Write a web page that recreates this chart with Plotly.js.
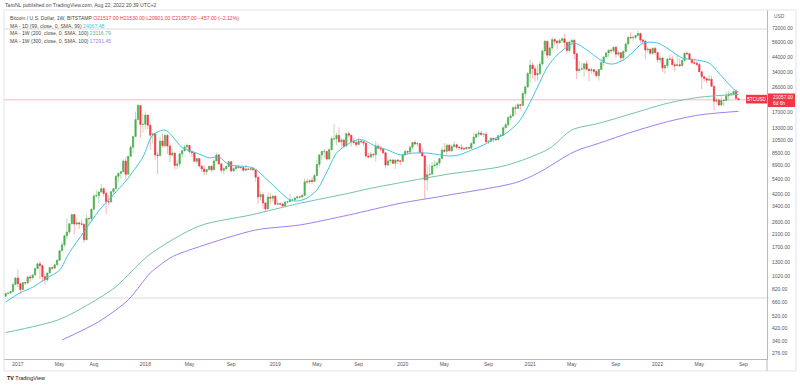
<!DOCTYPE html>
<html><head><meta charset="utf-8">
<script src="https://cdn.plot.ly/plotly-3.0.1.min.js"></script>
<style>html,body{margin:0;padding:0;background:#fff}#chart{width:800px;height:386px}</style>
</head><body><div id="chart"></div>
<script>
// ---- DATA: weekly BTC/USD (Bitstamp), first week starting 2016-11-28 ----
const startWeek = '2016-11-28';
const opens = [
730,765,770,790,890,
998,905,818,920,915,1015,998,1048,1170,1270,1230,1020,965,1085,1190,1180,1250,1350,1590,1760,2050,2190,2520,2950,2510,2560,2520,2500,1920,2760,2750,3230,4060,4080,4340,4600,4240,3690,3660,4370,4600,5680,5980,6150,7380,5880,8000,9350,11250,15000,19100,13800,
13850,16200,13600,11500,11750,8200,8100,10400,9600,11450,9550,8200,8450,6850,7030,8350,8800,9400,9650,8700,8500,7350,7700,6780,6450,6150,6370,6750,6350,7400,8200,7030,6300,6480,6720,7300,6230,6500,6700,6620,6600,6300,6450,6400,6480,6350,5600,4000,4150,3600,3250,3980,3900,
4050,3520,3550,3540,3420,3660,3680,3800,3800,3920,4000,3990,4100,5180,5160,5300,5200,5760,6950,8200,8700,8700,7650,8970,10800,10800,11450,10250,10600,9550,11800,11500,10300,10150,9780,10400,10300,10050,8050,7900,8300,8230,9550,9200,9050,8500,6900,7400,7500,7100,7500,7400,
7350,8180,8700,8600,9350,10150,9900,9950,8550,8050,5350,5850,5900,6780,6900,7130,7700,8900,8730,9670,8790,9450,9750,9350,9300,9120,9070,9300,9200,9950,11100,11700,11900,11650,11700,10250,10330,10900,10750,10650,11400,11500,13050,13750,15480,15950,18400,18180,19350,19150,23450,26250,
33000,38150,35800,32250,33100,38850,48600,57450,45200,51200,59000,57400,55800,58200,59800,56200,49000,56600,58300,46400,34700,35600,35800,39000,35500,34700,35300,34250,31800,35400,39850,43800,47000,49300,48800,51750,46000,47200,43200,48200,54700,61500,60900,61300,63300,65500,58700,57300,49400,50100,46700,50800,
47300,41850,43100,36300,37900,42400,42200,38400,37700,38400,37800,41300,46850,46400,42200,39700,39450,38500,34050,31300,30300,29450,29900,26600,20550,21030,19300,20850,20800,22600,23300,23200,24300,21517];
const highs = [
775,775,792,925,1000,
1150,910,925,930,1030,1060,1060,1190,1290,1330,1255,1070,1090,1200,1215,1280,1370,1600,1850,2100,2760,2550,2970,2990,2770,2620,2720,2530,2950,2800,3280,4200,4480,4400,4980,4700,4380,4120,4380,4620,5850,6000,6200,7600,7880,8050,9700,11400,17200,19666,19200,16500,
17250,16300,14000,12000,11900,8600,11200,11800,11700,11700,9950,9100,8500,7500,8400,9000,9750,9990,9680,8850,8550,7750,7780,6850,6850,6450,6780,6800,7600,8500,8270,7150,6620,6850,7320,7400,6600,6800,6800,6670,6700,6950,6520,6500,6600,6400,5620,4400,4300,3600,4300,4250,4100,
4100,3800,3630,3560,3690,3700,4200,3900,3950,4050,4070,4200,5500,5470,5380,5630,5900,7500,8300,8800,9100,8800,9300,11250,13880,12000,13150,11000,10650,11950,12300,11500,10950,10600,10900,10500,10350,10100,8500,8650,8450,10350,9950,9550,9100,8500,7850,7650,7650,7520,7700,7500,
8450,9000,8800,9600,10180,10500,10250,9980,9200,8200,6950,7000,7250,7480,7300,7780,9500,10050,9950,9900,9750,10400,9950,9550,9800,9350,9450,9350,10150,12000,11900,12450,12450,11830,12100,10600,11100,10950,10950,11450,11700,13350,14100,15950,16500,18900,19450,19900,19400,24300,26800,34000,
41950,40100,37800,38500,41000,49700,58300,57500,52600,61700,60600,58400,60200,61300,64900,57100,58000,59500,59600,46800,40900,39500,39400,41300,36000,36600,35950,34700,35500,42600,44700,48100,49350,50500,51900,52900,48800,47300,49000,56500,62000,67000,63700,63400,69000,66300,59500,59200,51900,50300,51800,52100,
47500,44500,43500,38900,42600,45800,44800,40300,45400,42600,42400,46900,48200,47200,42400,42900,40800,40000,34200,31400,30700,32300,31700,26800,21900,21500,22400,21200,24300,24600,23500,25000,25200,21530];
const lows = [
725,752,765,790,885,
850,750,815,885,910,930,990,1045,1165,980,940,890,940,1080,1150,1175,1240,1345,1590,1690,1950,2100,2500,2100,2450,2300,2470,1830,1900,2450,2620,3200,3960,3600,4300,4000,2980,3500,3650,4200,4560,5100,5450,6050,5500,5850,7980,8500,11100,14900,11000,12000,
12750,12800,9000,9960,7500,5900,8000,9300,9300,8300,7250,8000,6450,6450,6600,7850,8700,8950,8350,7900,7250,7050,6600,6120,5770,5800,6330,6100,6330,7350,6900,6050,5880,6260,6650,6150,6100,6200,6450,6470,6150,6300,6370,6250,6300,5200,3550,3750,3250,3122,3230,3550,3650,
3500,3500,3450,3350,3370,3560,3650,3700,3670,3830,3920,3900,4080,4950,5000,4950,5150,5700,6600,7500,7800,7450,7550,8950,10400,9700,10100,9100,9200,9400,11000,9500,9800,9330,9750,9900,9600,7750,7800,7800,7850,7300,9050,8700,8350,6500,6800,7150,7000,6450,7050,6850,
7300,8050,8250,8550,9100,9700,9400,8500,8000,3850,4450,5700,5850,6770,6500,6800,7650,8550,8200,8750,8650,9300,9050,8900,8850,8950,9050,9050,9130,9900,10950,11150,11350,11100,9900,9850,10250,10150,10400,10550,11200,11400,12950,13250,14800,15800,16200,18100,17600,19000,21800,26100,
28150,30300,28800,29200,32300,38000,45700,43000,45000,49300,53300,50400,55000,55500,51500,47000,47000,52900,42200,30000,33400,34800,31000,34900,28800,32700,32100,31000,29300,35200,37500,43700,43900,46400,46900,43000,44700,39800,40800,46900,54300,59600,57900,59500,62300,55600,53500,42000,47300,45600,45600,45700,
39700,39600,34000,32900,36300,41700,38000,34300,37500,37200,37600,40500,45200,41900,39200,38600,37600,33700,25400,28700,28000,29300,26500,17600,19800,18800,19000,18900,20700,20700,22400,22700,20800,20901];
const closes = [
765,770,790,890,998,
905,818,920,915,1015,998,1048,1170,1270,1230,1020,965,1085,1190,1180,1250,1350,1590,1760,2050,2190,2520,2950,2510,2560,2520,2500,1920,2760,2750,3230,4060,4080,4340,4600,4240,3690,3660,4370,4600,5680,5980,6150,7380,5880,8000,9350,11250,15000,19100,13800,13850,
16200,13600,11500,11750,8200,8100,10400,9600,11450,9550,8200,8450,6850,7030,8350,8800,9400,9650,8700,8500,7350,7700,6780,6450,6150,6370,6750,6350,7400,8200,7030,6300,6480,6720,7300,6230,6500,6700,6620,6600,6300,6450,6400,6480,6350,5600,4000,4150,3600,3250,3980,3900,4050,
3520,3550,3540,3420,3660,3680,3800,3800,3920,4000,3990,4100,5180,5160,5300,5200,5760,6950,8200,8700,8700,7650,8970,10800,10800,11450,10250,10600,9550,11800,11500,10300,10150,9780,10400,10300,10050,8050,7900,8300,8230,9550,9200,9050,8500,6900,7400,7500,7100,7500,7400,7350,
8180,8700,8600,9350,10150,9900,9950,8550,8050,5350,5850,5900,6780,6900,7130,7700,8900,8730,9670,8790,9450,9750,9350,9300,9120,9070,9300,9200,9950,11100,11700,11900,11650,11700,10250,10330,10900,10750,10650,11400,11500,13050,13750,15480,15950,18400,18180,19350,19150,23450,26250,33000,
38150,35800,32250,33100,38850,48600,57450,45200,51200,59000,57400,55800,58200,59800,56200,49000,56600,58300,46400,34700,35600,35800,39000,35500,34700,35300,34250,31800,35400,39850,43800,47000,49300,48800,51750,46000,47200,43200,48200,54700,61500,60900,61300,63300,65500,58700,57300,49400,50100,46700,50800,47300,
41850,43100,36300,37900,42400,42200,38400,37700,38400,37800,41300,46850,46400,42200,39700,39450,38500,34050,31300,30300,29450,29900,26600,20550,21030,19300,20850,20800,22600,23300,23200,24300,21514,21057];

// moving averages (week index into the weekly series, value)
const ma99dIdx = [0,6,11,17,22,26,32,38,44,49,56,60,65,68,72,78,83,87,91,101,107,112,116,119,123,127,131,135,139,143,146,150,156,161,166,172,181,185,190,195,200,203,209,213,217,221,225,229,232,236,241,245,248,252,256,260,266,271,276,282,287,291,297,299];
const ma99dVal = [660,775,850,1000,1140,1540,2200,3150,4150,5250,7900,11500,12560,11300,9300,8450,7800,7900,6950,6550,5300,4350,3790,3720,3920,4500,6100,8450,9700,10580,10580,9700,8900,8200,8450,8450,8050,8200,8900,9700,10950,11500,14150,18600,26200,36900,45300,52000,55700,51100,43800,39500,38900,41600,47700,55700,55700,49400,43100,41600,39500,33300,25300,24067.48];
const ma200wIdx = [0,22,38,45,52,59,79,100,120,140,147,161,181,202,211,222,231,242,256,270,283,299];
const ma200wVal = [392,491,704,859,1143,1503,2428,2931,3581,4250,4550,5095,5913,6700,7514,9182,12560,14080,16720,19830,21990,23116.79];
const ma300wIdx = [23,38,50,55,59,63,68,79,102,120,140,161,181,208,217,232,242,256,270,283,299];
const ma300wVal = [345,472,684,884,1086,1245,1435,1703,2267,2470,2931,3581,4128,5095,5984,8660,10000,12200,14474,16240,17291.45];

const yTickVals = [72000,56000,44000,34000,26000,17000,13000,10500,8500,6900,5400,4200,3400,2600,2100,1700,1300,1020,820,660,520,420,340,276];
const xTickVals = ['2017-01-02','2017-05-01','2017-08-07','2018-01-01','2018-05-07','2018-09-03','2019-01-07','2019-05-06','2019-09-02','2020-01-06','2020-05-04','2020-09-07','2021-01-04','2021-05-03','2021-09-06','2022-01-03','2022-05-02','2022-09-05'];
const xTickText = ['2017','May','Aug','2018','May','Sep','2019','May','Sep','2020','May','Sep','2021','May','Sep','2022','May','Sep'];

// ---- build ----
const WEEK = 7*86400000;
const t0 = Date.parse(startWeek + 'T00:00:00Z');
const iso = ms => new Date(ms).toISOString().slice(0,19).replace('T',' ');
const dates = closes.map((_, i) => iso(t0 + i*WEEK).slice(0,10));
const bodyTop = opens.map((o,i) => Math.max(o, closes[i]));
const bodyBot = opens.map((o,i) => Math.min(o, closes[i]));

const FONT = 'Liberation Sans, Arial, sans-serif';
const GREEN = '#4caf50', RED = '#f23645';
const CYAN = '#3fc3df', MINT = '#72c3ab', PURPLE = '#a47cf2';

const traces = [
  {type:'candlestick', x:dates, open:opens, high:highs, low:lows, close:closes,
   increasing:{line:{color:'#b7ddb9', width:1}, fillcolor:'#b7ddb9'},
   decreasing:{line:{color:'#f8b3b9', width:1}, fillcolor:'#f8b3b9'},
   whiskerwidth:0, hoverinfo:'skip', showlegend:false},
  {type:'candlestick', x:dates, open:opens, high:bodyTop, low:bodyBot, close:closes,
   increasing:{line:{color:GREEN, width:0.5}, fillcolor:GREEN},
   decreasing:{line:{color:RED, width:0.5}, fillcolor:RED},
   whiskerwidth:0, hoverinfo:'skip', showlegend:false},
  {type:'scatter', mode:'lines', x:ma200wIdx.map(i=>dates[i]), y:ma200wVal,
   line:{color:MINT, width:1, shape:'spline', smoothing:0.8}, hoverinfo:'skip', showlegend:false},
  {type:'scatter', mode:'lines', x:ma300wIdx.map(i=>dates[i]), y:ma300wVal,
   line:{color:PURPLE, width:1, shape:'spline', smoothing:0.8}, hoverinfo:'skip', showlegend:false},
  {type:'scatter', mode:'lines', x:ma99dIdx.map(i=>dates[i]), y:ma99dVal,
   line:{color:CYAN, width:1, shape:'spline', smoothing:0.8}, hoverinfo:'skip', showlegend:false}
];

const L = 4, R = 33, T = 10, B = 27, W = 800, H = 386;
const px = x => (x - L) / (W - L - R);
const py = y => (H - B - y) / (H - T - B);

const n = closes.length;
const lastO = opens[n-1], lastH = highs[n-1], lastL = lows[n-1], lastC = closes[n-1];
const chg = lastC - closes[n-2];
const pct = chg / closes[n-2] * 100;
const m = v => (v < 0 ? '\u2212' : '') + Math.abs(v).toFixed(2);

const ann = (x, y, text, opt={}) => Object.assign({xref:'paper', yref:'paper', x:px(x), y:py(y), text,
  showarrow:false, xanchor:'left', yanchor:'middle', font:{family:FONT, size:5.1, color:'#4a4a4a'}}, opt);

const annotations = [
  ann(3, 5, 'TaroNL published on TradingView.com, Aug 22, 2022 20:39 UTC+2', {font:{family:FONT, size:5.1, color:'#4a4a4a'}}),
  ann(7.5, 18.3, 'Bitcoin / U.S. Dollar, 1W, BITSTAMP <span style="color:'+RED+'">O'+lastO.toFixed(2)+' H'+lastH.toFixed(2)+' L'+lastL.toFixed(2)+' C'+lastC.toFixed(2)+' '+m(chg)+' ('+m(pct)+'%)</span>'),
  ann(7.5, 25.5, 'MA - 1D (99, close, 0, SMA, 99) <span style="color:'+CYAN+'">'+ma99dVal[ma99dVal.length-1].toFixed(2)+'</span>'),
  ann(7.5, 33.3, 'MA - 1W (200, close, 0, SMA, 100) <span style="color:#4fb397">'+ma200wVal[ma200wVal.length-1].toFixed(2)+'</span>'),
  ann(7.5, 40.7, 'MA - 1W (300, close, 0, SMA, 100) <span style="color:'+PURPLE+'">'+ma300wVal[ma300wVal.length-1].toFixed(2)+'</span>'),
  ann(772, 17, 'USD', {font:{family:FONT, size:4.8, color:'#666'}}),
  ann(770.5, 97.3, lastC.toFixed(2), {font:{family:FONT, size:4.8, color:'#fff'}}),
  ann(770.5, 103.3, '6d 6h', {font:{family:FONT, size:4.8, color:'#fff'}}),
  ann(756.5, 99, 'BTCUSD', {xanchor:'center', font:{family:FONT, size:4.6, color:'#fff'}}),
  ann(5, 378, '<b>TV</b> TradingView', {font:{family:FONT, size:5.4, color:'#131722'}})
];

const shapes = [
  {type:'line', xref:'paper', yref:'y', x0:0, x1:1, y0:lastC, y1:lastC, line:{color:'#f6a6ad', width:0.8}, layer:'below'},
  {type:'line', xref:'paper', yref:'paper', x0:0, x1:1, y0:py(29), y1:py(29), line:{color:'#d9d9d9', width:1}, layer:'below'},
  {type:'line', xref:'paper', yref:'paper', x0:0, x1:1, y0:py(298), y1:py(298), line:{color:'#d9d9d9', width:1}, layer:'below'},
  {type:'rect', xref:'paper', yref:'paper', x0:px(4), x1:px(796), y0:py(371), y1:py(10), line:{color:'#e0e3eb', width:1}},
  {type:'line', xref:'paper', yref:'paper', x0:px(767), x1:px(767), y0:py(359), y1:py(371), line:{color:'#b8b8b8', width:1}},
  {type:'rect', xref:'paper', yref:'paper', x0:px(768), x1:px(795), y0:py(107), y1:py(93.5), fillcolor:RED, line:{width:0}},
  {type:'rect', xref:'paper', yref:'paper', x0:px(746), x1:px(767), y0:py(103.5), y1:py(94.8), fillcolor:RED, line:{width:0}}
];

const layout = {
  width:W, height:H, margin:{l:L, r:R, t:T, b:B},
  paper_bgcolor:'#fff', plot_bgcolor:'#fff', showlegend:false,
  font:{family:FONT, size:5, color:'#555'},
  xaxis:{type:'date', range:[iso(t0 - 0.67*WEEK), iso(t0 + 310.63*WEEK)],
    tickmode:'array', tickvals:xTickVals, ticktext:xTickText,
    showgrid:false, zeroline:false, showline:true, linecolor:'#b8b8b8', linewidth:1,
    ticks:'', tickfont:{family:FONT, size:5, color:'#555'}, rangeslider:{visible:false}, fixedrange:true},
  yaxis:{type:'log', side:'right', range:[2.3963, 4.9911],
    tickmode:'array', tickvals:yTickVals, ticktext:yTickVals.map(v=>v.toFixed(2)),
    showgrid:false, zeroline:false, showline:true, linecolor:'#b8b8b8', linewidth:1,
    ticks:'', ticklabelstandoff:3, tickfont:{family:FONT, size:5, color:'#555'}, fixedrange:true},
  annotations, shapes
};

Plotly.newPlot('chart', traces, layout, {staticPlot:true, displayModeBar:false});
</script></body></html>
